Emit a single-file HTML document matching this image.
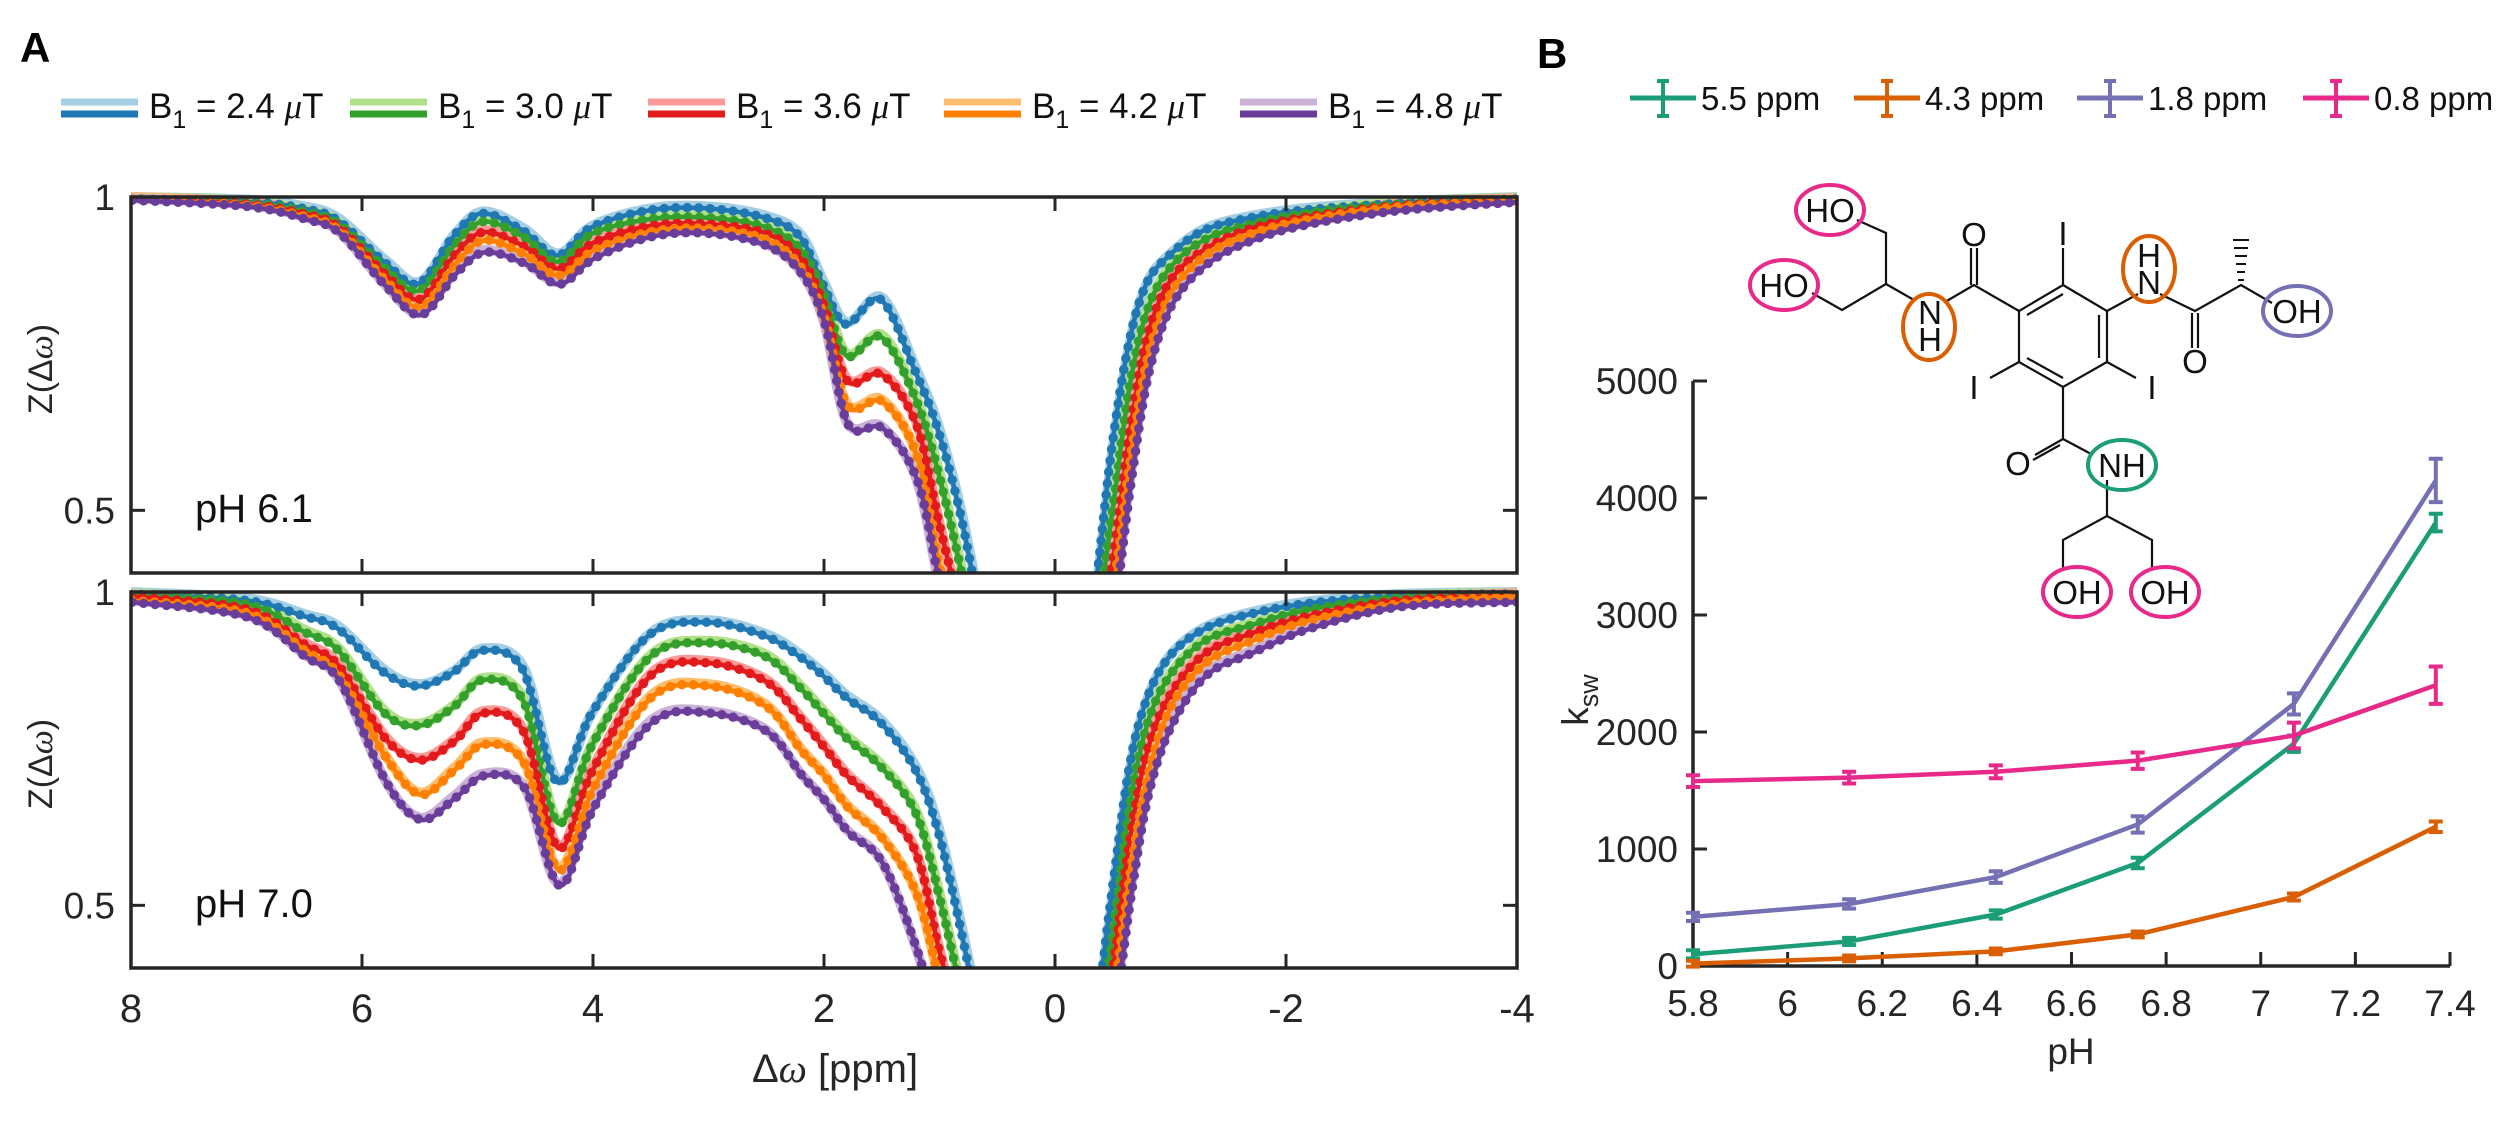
<!DOCTYPE html>
<html><head><meta charset="utf-8"><style>
html,body{margin:0;padding:0;background:#fff;}
svg{display:block;font-family:"Liberation Sans",Arial,sans-serif;}
</style></head><body>
<svg id="fig" width="2514" height="1148" viewBox="0 0 2514 1148" xmlns="http://www.w3.org/2000/svg">
<defs>
<clipPath id="clipTop"><rect x="131" y="186" width="1386" height="387"/></clipPath>
<clipPath id="clipBot"><rect x="131" y="584" width="1386" height="384"/></clipPath>
</defs>
<text x="20" y="62" font-size="42" font-weight="bold">A</text>
<text x="1537" y="68" font-size="42" font-weight="bold">B</text>
<g id="legA"></g>
<g id="panelA"></g>
<g id="legB"></g>
<g id="chem" stroke="#111" stroke-width="2.2" fill="none">
  <polyline points="1857,220 1886,233 1886,284 1842,310 1812,293"/>
  <polyline points="1886,284 1914,300"/>
  <polyline points="1945,302 1974,285 2019,311"/>
  <line x1="1971" y1="285" x2="1971" y2="248"/><line x1="1977" y1="285" x2="1977" y2="248"/>
  <polygon points="2063,285 2107,311 2107,362 2063,387 2019,362 2019,311"/>
  <line x1="2063" y1="294" x2="2027" y2="315"/><line x1="2099" y1="315" x2="2099" y2="358"/><line x1="2063" y1="378" x2="2027" y2="358"/>
  <line x1="2063" y1="285" x2="2063" y2="248"/>
  <line x1="2019" y1="362" x2="1990" y2="378"/>
  <line x1="2107" y1="362" x2="2136" y2="378"/>
  <polyline points="2107,311 2138,294"/>
  <polyline points="2160,294 2195,311 2241,285 2272,303"/>
  <line x1="2192" y1="313" x2="2192" y2="348"/><line x1="2198" y1="313" x2="2198" y2="348"/>
  <g stroke-width="2"><line x1="2238" y1="280" x2="2244" y2="280"/><line x1="2237" y1="272" x2="2245" y2="272"/><line x1="2236" y1="264" x2="2246" y2="264"/><line x1="2235" y1="256" x2="2247" y2="256"/><line x1="2234" y1="248" x2="2248" y2="248"/><line x1="2233" y1="240" x2="2249" y2="240"/></g>
  <line x1="2063" y1="387" x2="2063" y2="439"/>
  <line x1="2063" y1="439" x2="2035" y2="455"/><line x1="2060" y1="445" x2="2033" y2="460"/>
  <polyline points="2063,439 2093,455"/>
  <polyline points="2107,480 2107,516 2063,540 2063,570"/>
  <polyline points="2107,516 2152,540 2152,570"/>
</g>
<g id="chemText" font-size="33" fill="#111" text-anchor="middle">
  <text x="1830" y="222">HO</text><text x="1784" y="297">HO</text>
  <text x="1930" y="324">N</text><text x="1930" y="351">H</text>
  <text x="1974" y="246">O</text>
  <text x="2063" y="245">I</text><text x="1974" y="399">I</text><text x="2152" y="399">I</text>
  <text x="2149" y="267">H</text><text x="2149" y="294">N</text>
  <text x="2195" y="373">O</text>
  <text x="2297" y="323">OH</text>
  <text x="2018" y="475">O</text>
  <text x="2122" y="477">NH</text>
  <text x="2077" y="604">OH</text><text x="2165" y="604">OH</text>
</g>
<g fill="none" stroke-width="4">
  <ellipse cx="1830" cy="210" rx="34" ry="25" stroke="#e7298a"/>
  <ellipse cx="1784" cy="285" rx="34" ry="25" stroke="#e7298a"/>
  <ellipse cx="1929" cy="327" rx="26" ry="33" stroke="#d95f02"/>
  <ellipse cx="2149" cy="269" rx="26" ry="33" stroke="#d95f02"/>
  <ellipse cx="2297" cy="311" rx="34" ry="25" stroke="#7570b3"/>
  <ellipse cx="2122" cy="465" rx="34" ry="25" stroke="#1b9e77"/>
  <ellipse cx="2077" cy="592" rx="34" ry="25" stroke="#e7298a"/>
  <ellipse cx="2165" cy="592" rx="34" ry="25" stroke="#e7298a"/>
</g>
<g id="panelB"></g>
</svg>
<script>
// ---------- Panel A data ----------
const ppm = [8,7,6.5,6.2,5.8,5.5,5.2,4.95,4.6,4.3,4.0,3.5,3.0,2.5,2.2,2.0,1.8,1.5,1.2,1.0,0.8,0.6,0.4,0,-0.3,-0.5,-0.65,-0.8,-1.0,-1.3,-1.7,-2.2,-3,-4];
const b1Labels = ["2.4","3.0","3.6","4.2","4.8"];
const pH61_b24 = [1.0,0.996,0.985,0.966,0.90,0.865,0.94,0.977,0.95,0.91,0.955,0.982,0.985,0.97,0.94,0.864,0.80,0.84,0.725,0.63,0.49,0.3,0.12,0.05,0.3,0.6,0.77,0.864,0.91,0.95,0.97,0.983,0.993,1.0];
const pH61_b30 = [1.0,0.994,0.98,0.96,0.89,0.854,0.925,0.964,0.94,0.90,0.945,0.968,0.97,0.955,0.92,0.85,0.75,0.78,0.68,0.56,0.40,0.22,0.1,0.05,0.25,0.5,0.7,0.82,0.89,0.935,0.96,0.978,0.992,0.999];
const pH61_b36 = [1.0,0.992,0.976,0.955,0.88,0.84,0.91,0.947,0.925,0.889,0.93,0.957,0.96,0.945,0.905,0.83,0.71,0.72,0.64,0.48,0.33,0.2,0.1,0.05,0.2,0.42,0.63,0.78,0.87,0.92,0.953,0.972,0.99,0.998];
const pH61_b42 = [1.0,0.99,0.972,0.95,0.87,0.827,0.895,0.934,0.912,0.878,0.918,0.948,0.953,0.935,0.89,0.81,0.67,0.677,0.59,0.41,0.28,0.18,0.1,0.05,0.18,0.38,0.59,0.75,0.85,0.91,0.945,0.968,0.988,0.997];
const pH61_b48 = [0.998,0.988,0.968,0.945,0.86,0.815,0.88,0.915,0.897,0.864,0.905,0.94,0.945,0.925,0.88,0.80,0.64,0.634,0.55,0.38,0.25,0.16,0.1,0.05,0.15,0.34,0.55,0.72,0.83,0.895,0.934,0.96,0.982,0.995];
const pH70_b24 = [1.0,0.99,0.965,0.945,0.875,0.853,0.875,0.91,0.88,0.70,0.81,0.935,0.955,0.933,0.9,0.87,0.835,0.795,0.72,0.62,0.46,0.28,0.12,0.05,0.25,0.52,0.72,0.83,0.9,0.944,0.968,0.985,0.997,1.0];
const pH70_b30 = [0.998,0.984,0.94,0.91,0.81,0.79,0.82,0.863,0.83,0.635,0.76,0.9,0.922,0.9,0.85,0.81,0.77,0.724,0.65,0.52,0.36,0.22,0.1,0.05,0.2,0.45,0.66,0.79,0.87,0.925,0.95,0.975,0.994,0.999];
const pH70_b36 = [0.996,0.976,0.92,0.885,0.77,0.735,0.765,0.81,0.78,0.595,0.72,0.87,0.89,0.86,0.80,0.756,0.71,0.66,0.585,0.43,0.3,0.2,0.1,0.05,0.17,0.4,0.61,0.75,0.84,0.905,0.937,0.965,0.99,0.998];
const pH70_b42 = [0.99,0.97,0.91,0.87,0.74,0.68,0.72,0.76,0.73,0.56,0.69,0.835,0.853,0.82,0.75,0.71,0.66,0.61,0.52,0.38,0.26,0.18,0.1,0.05,0.15,0.36,0.56,0.71,0.82,0.89,0.925,0.958,0.985,0.996];
const pH70_b48 = [0.987,0.963,0.9,0.86,0.70,0.64,0.675,0.71,0.69,0.535,0.66,0.795,0.81,0.78,0.71,0.67,0.62,0.57,0.43,0.3,0.2,0.14,0.08,0.05,0.12,0.32,0.52,0.68,0.79,0.87,0.906,0.945,0.98,0.987];
const xTicksA = [8,6,4,2,0,-2,-4];
const yTicksA = [0.5,1];

// ---------- Panel B data ----------
const pHvals = [5.8,6.13,6.44,6.74,7.07,7.37];
const k55 = [100,210,440,880,1900,3790];
const k43 = [20,65,125,270,590,1190];
const k18 = [420,530,760,1210,2240,4150];
const k08 = [1580,1610,1660,1755,1970,2400];
const e55 = [35,30,35,45,70,75];
const e43 = [25,25,25,25,30,45];
const e18 = [35,40,50,70,90,185];
const e08 = [50,50,55,70,110,160];
const xTicksB = [5.8,6,6.2,6.4,6.6,6.8,7,7.2,7.4];
const yTicksB = [0,1000,2000,3000,4000,5000];
const bLegend = ["5.5 ppm","4.3 ppm","1.8 ppm","0.8 ppm"];

const NS="http://www.w3.org/2000/svg";
function mk(tag,attrs,parent){const e=document.createElementNS(NS,tag);for(const k in attrs)e.setAttribute(k,attrs[k]);if(parent)parent.appendChild(e);return e;}
const AX="#262626";
const dark=["#1f78b4","#33a02c","#e31a1c","#ff7f00","#6a3d9a"];
const light=["#a6cee3","#b2df8a","#fb9a99","#fdbf6f","#cab2d6"];

const xA=v=>131+(8-v)*(1386/12);
function yAf(top){return v=>top+(1-v)*(376/0.6);}

function smooth(pts){
  let d="M"+pts[0][0].toFixed(1)+","+pts[0][1].toFixed(1);
  for(let i=0;i<pts.length-1;i++){
    const p0=pts[i-1]||pts[i],p1=pts[i],p2=pts[i+1],p3=pts[i+2]||pts[i+1];
    const c1=[p1[0]+(p2[0]-p0[0])/6,p1[1]+(p2[1]-p0[1])/6];
    const c2=[p2[0]-(p3[0]-p1[0])/6,p2[1]-(p3[1]-p1[1])/6];
    d+=" C"+c1.map(n=>n.toFixed(1))+" "+c2.map(n=>n.toFixed(1))+" "+p2[0].toFixed(1)+","+p2[1].toFixed(1);
  }
  return d;
}

const gA=document.getElementById("panelA");
function panelA(top,series,clipId,phLabel,nameSuffix){
  const yA=yAf(top);const bottom=top+376;
  const g=mk("g",{},gA);
  
  
  const cg=mk("g",{"clip-path":"url(#"+clipId+")"},g);
  series.forEach((vals,i)=>{
    const pts=ppm.map((p,j)=>[xA(p),yA(vals[j])]);
    const d=smooth(pts);
    const l=mk("path",{d:d,fill:"none",stroke:light[i],"stroke-width":10,"stroke-linejoin":"round"},cg);
    
    
  });
  series.forEach((vals,i)=>{
    const pts=ppm.map((p,j)=>[xA(p)+(i-2)*0.6,yA(vals[j])+2]);
    const d=smooth(pts);
    const l=mk("path",{d:d,fill:"none",stroke:dark[i],"stroke-width":4.5},cg);
    
    
    const m=mk("path",{d:d,fill:"none",stroke:dark[i],"stroke-width":9.5,"stroke-linecap":"round","stroke-dasharray":"0 11.5"},cg);
    
    
  });
  const box=mk("rect",{x:131,y:top,width:1386,height:376,fill:"none",stroke:AX,"stroke-width":3.5},g);
  
  
  xTicksA.forEach(t=>{
    mk("line",{x1:xA(t),x2:xA(t),y1:bottom,y2:bottom-14,stroke:AX,"stroke-width":3},g);
    mk("line",{x1:xA(t),x2:xA(t),y1:top,y2:top+14,stroke:AX,"stroke-width":3},g);
  });
  yTicksA.forEach(t=>{
    mk("line",{x1:131,x2:145,y1:yA(t),y2:yA(t),stroke:AX,"stroke-width":3},g);
    mk("line",{x1:1517,x2:1503,y1:yA(t),y2:yA(t),stroke:AX,"stroke-width":3},g);
    const tl=mk("text",{x:115,y:yA(t)+13,"font-size":37,"text-anchor":"end",fill:AX},g);
    tl.textContent=String(t);
    
    
  });
  const yl=mk("text",{transform:"translate(52,"+(top+172)+") rotate(-90)","font-size":34,"text-anchor":"middle",fill:AX},g);
  yl.innerHTML='Z(Δ<tspan font-style="italic" font-family="Liberation Serif">ω</tspan>)';
  
  
  const ph=mk("text",{x:195,y:top+325,"font-size":40,fill:"#111"},g);
  ph.textContent=phLabel;
  
  
}
panelA(197,[pH61_b24,pH61_b30,pH61_b36,pH61_b42,pH61_b48],"clipTop","pH 6.1","ph61");
panelA(592,[pH70_b24,pH70_b30,pH70_b36,pH70_b42,pH70_b48],"clipBot","pH 7.0","ph70");
xTicksA.forEach(t=>{
  const tl=mk("text",{x:xA(t),y:1022,"font-size":40,"text-anchor":"middle",fill:AX},gA);
  tl.textContent=String(t);
  
  
});
const xl=mk("text",{x:835,y:1082,"font-size":40,"text-anchor":"middle",fill:AX},gA);
xl.innerHTML='Δ<tspan font-style="italic" font-family="Liberation Serif">ω</tspan> [ppm]';



const legA=document.getElementById("legA");
const legAx=[61,350,648,944,1240];
b1Labels.forEach((lab,i)=>{
  const g=mk("g",{},legA);
  
  
  const x=legAx[i];
  mk("line",{x1:x,x2:x+77,y1:102,y2:102,stroke:light[i],"stroke-width":7},g);
  mk("line",{x1:x,x2:x+77,y1:114,y2:114,stroke:dark[i],"stroke-width":7},g);
  const t=mk("text",{x:x+88,y:118,"font-size":35,fill:"#111"},g);
  t.innerHTML='B<tspan font-size="25" dy="10">1</tspan><tspan dy="-10"> = '+lab+' </tspan><tspan font-style="italic" font-family="Liberation Serif">μ</tspan>T';
});

// ---------- Panel B ----------
const gB=document.getElementById("panelB");
const xB=v=>1693+(v-5.8)*(757/1.6);
const yB=v=>966-v*(585/5000);
const colB=["#1b9e77","#d95f02","#7570b3","#e7298a"];
const ax=mk("path",{d:"M1693,381 L1693,966 L2450,966",fill:"none",stroke:AX,"stroke-width":3.5},gB);


yTicksB.forEach(t=>{
  mk("line",{x1:1693,x2:1707,y1:yB(t),y2:yB(t),stroke:AX,"stroke-width":3},gB);
  const tl=mk("text",{x:1678,y:yB(t)+13,"font-size":37,"text-anchor":"end",fill:AX},gB);
  tl.textContent=String(t);
  
  
});
xTicksB.forEach(t=>{
  mk("line",{x1:xB(t),x2:xB(t),y1:966,y2:952,stroke:AX,"stroke-width":3},gB);
  const tl=mk("text",{x:xB(t),y:1016,"font-size":37,"text-anchor":"middle",fill:AX},gB);
  tl.textContent=String(t);
  
  
});
const xlb=mk("text",{x:2071,y:1064,"font-size":37,"text-anchor":"middle",fill:AX},gB);
xlb.textContent="pH";


const ylb=mk("text",{transform:"translate(1588,700) rotate(-90)","font-size":37,"text-anchor":"middle",fill:AX},gB);
ylb.innerHTML='k<tspan font-size="27" dy="10">sw</tspan>';


const seriesB=[k55,k43,k18,k08], errB=[e55,e43,e18,e08];
seriesB.forEach((vals,i)=>{
  const g=mk("g",{stroke:colB[i]},gB);
  
  
  const pl=mk("polyline",{points:pHvals.map((p,j)=>xB(p)+","+yB(vals[j])).join(" "),fill:"none","stroke-width":4.5},g);
  
  
  pHvals.forEach((p,j)=>{
    const x=xB(p),y1=yB(vals[j]-errB[i][j]),y2=yB(vals[j]+errB[i][j]);
    const eb=mk("path",{d:`M${x},${y1} L${x},${y2} M${x-7},${y1} L${x+7},${y1} M${x-7},${y2} L${x+7},${y2}`,"stroke-width":4,fill:"none"},g);
    
    
  });
});
const legB=document.getElementById("legB");
const legBx=[1630,1854,2077,2303];
bLegend.forEach((lab,i)=>{
  const g=mk("g",{stroke:colB[i]},legB);
  
  
  const x=legBx[i],cx=x+33;
  mk("line",{x1:x,x2:x+66,y1:98,y2:98,"stroke-width":5},g);
  mk("path",{d:`M${cx},81 L${cx},116 M${cx-6},81 L${cx+6},81 M${cx-6},116 L${cx+6},116`,"stroke-width":4,fill:"none"},g);
  const t=mk("text",{x:x+71,y:110,"font-size":33,fill:"#111",stroke:"none"},g);
  t.textContent=lab;
});
</script>
</body></html>
